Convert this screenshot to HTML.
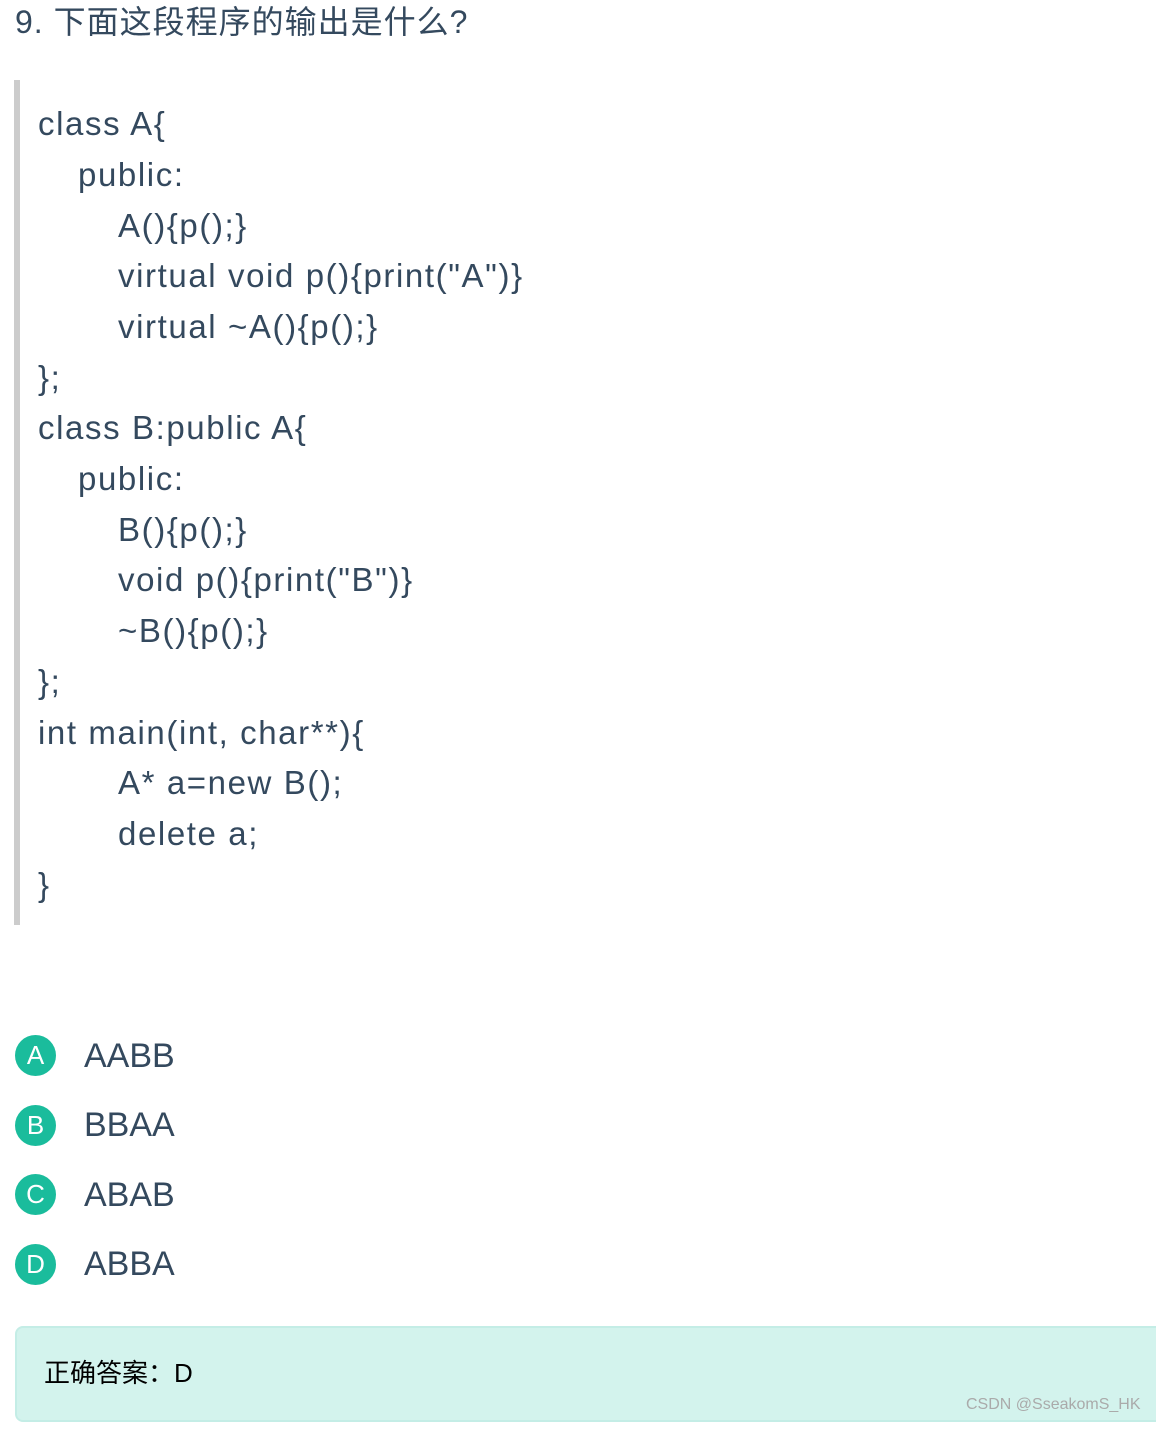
<!DOCTYPE html>
<html><head><meta charset="utf-8"><style>
body{margin:0;width:1156px;height:1423px;background:#fff;position:relative;overflow:hidden;font-family:"Liberation Sans","Noto Sans CJK SC",sans-serif;color:#34495e}
.t{position:absolute;white-space:pre;line-height:50px;height:50px}
.c{font-size:33px;letter-spacing:1.6px}
.circ{position:absolute;left:15px;width:41px;height:41px;border-radius:50%;background:#1abc9c;color:#fff;font-size:26px;text-align:center;line-height:41px}
.op{position:absolute;left:84px;font-size:34px;line-height:50px}
</style></head><body>
<div class="t" style="left:15px;top:-3px;font-size:32px;letter-spacing:1px">9. 下面这段程序的输出是什么?</div>
<div style="position:absolute;left:14px;top:80px;width:6px;height:845px;background:#cccccc"></div>
<div class="t c" style="left:38px;top:99px">class A{</div>
<div class="t c" style="left:78px;top:150px">public:</div>
<div class="t c" style="left:118px;top:201px">A(){p();}</div>
<div class="t c" style="left:118px;top:251px">virtual void p(){print("A")}</div>
<div class="t c" style="left:118px;top:302px">virtual ~A(){p();}</div>
<div class="t c" style="left:38px;top:353px">};</div>
<div class="t c" style="left:38px;top:403px">class B:public A{</div>
<div class="t c" style="left:78px;top:454px">public:</div>
<div class="t c" style="left:118px;top:505px">B(){p();}</div>
<div class="t c" style="left:118px;top:555px">void p(){print("B")}</div>
<div class="t c" style="left:118px;top:606px">~B(){p();}</div>
<div class="t c" style="left:38px;top:657px">};</div>
<div class="t c" style="left:38px;top:708px">int main(int, char**){</div>
<div class="t c" style="left:118px;top:758px">A* a=new B();</div>
<div class="t c" style="left:118px;top:809px">delete a;</div>
<div class="t c" style="left:38px;top:860px">}</div>

<div class="circ" style="top:1035px">A</div><div class="op" style="top:1031px">AABB</div>
<div class="circ" style="top:1105px">B</div><div class="op" style="top:1100px">BBAA</div>
<div class="circ" style="top:1174px">C</div><div class="op" style="top:1170px">ABAB</div>
<div class="circ" style="top:1244px">D</div><div class="op" style="top:1239px">ABBA</div>

<div style="position:absolute;left:15px;top:1326px;width:1150px;height:92px;background:#d3f3ed;border:2px solid #c4ede6;border-radius:8px"></div>
<div class="t" style="left:44px;top:1348px;font-size:26px;color:#000">正确答案：D</div>
<div class="t" style="left:966px;top:1380px;font-size:16px;color:#aaa">CSDN @SseakomS_HK</div>
</body></html>
